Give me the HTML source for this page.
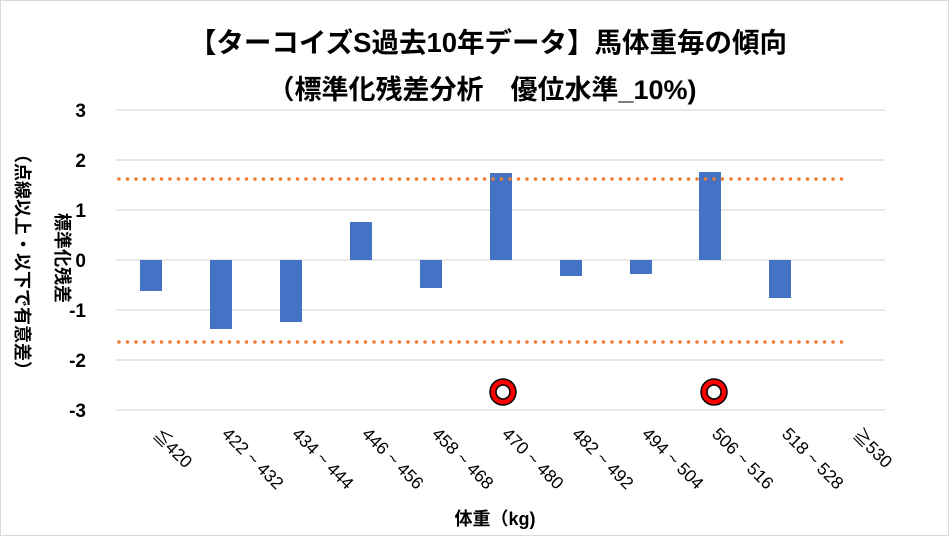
<!DOCTYPE html>
<html><head><meta charset="utf-8"><style>
body{margin:0;background:#fff}
svg{display:block;font-family:"Liberation Sans","Noto Sans CJK JP",sans-serif}
</style></head><body>
<svg width="949" height="536" viewBox="0 0 949 536">
<rect x="0.5" y="0.5" width="948" height="535" fill="#fff" stroke="#d9d9d9"/>
<text x="488" y="52" text-anchor="middle" font-size="27.5" font-weight="bold">【ターコイズS過去10年データ】馬体重毎の傾向</text>
<text x="482" y="99" text-anchor="middle" font-size="27" font-weight="bold">（標準化残差分析　優位水準_10%)</text>
<g stroke="#d9d9d9" stroke-width="1.3">
<line x1="116" x2="885" y1="110" y2="110"/><line x1="116" x2="885" y1="160" y2="160"/>
<line x1="116" x2="885" y1="210" y2="210"/><line x1="116" x2="885" y1="260" y2="260"/>
<line x1="116" x2="885" y1="310" y2="310"/><line x1="116" x2="885" y1="360" y2="360"/>
<line x1="116" x2="885" y1="410" y2="410"/>
</g>
<g font-size="19" font-weight="bold" text-anchor="end">
<text x="86" y="117">3</text><text x="86" y="167">2</text><text x="86" y="217">1</text>
<text x="86" y="267">0</text><text x="86" y="317">-1</text><text x="86" y="367">-2</text><text x="86" y="417">-3</text>
</g>
<g fill="#4472c4">
<rect x="140" y="260" width="22" height="31"/>
<rect x="210" y="260" width="22" height="69"/>
<rect x="280" y="260" width="22" height="62"/>
<rect x="350" y="222" width="22" height="38"/>
<rect x="420" y="260" width="22" height="28"/>
<rect x="490" y="173" width="22" height="87"/>
<rect x="560" y="260" width="22" height="16"/>
<rect x="630" y="260" width="22" height="14"/>
<rect x="699" y="172" width="22" height="88"/>
<rect x="769" y="260" width="22" height="38"/>
</g>
<g stroke="#ed7d31" stroke-width="3.5" stroke-linecap="round" stroke-dasharray="0 8.5">
<line x1="119" x2="845" y1="179" y2="179"/><line x1="119" x2="845" y1="342" y2="342"/>
</g>
<g fill="#fff" stroke="#000" stroke-width="1.5">
<circle cx="503" cy="392" r="13" fill="#ff0000"/><circle cx="503" cy="392" r="7"/>
<circle cx="714" cy="392" r="13" fill="#ff0000"/><circle cx="714" cy="392" r="7"/>
</g>
<g font-size="17.5">
<text transform="translate(152,436) rotate(45)">≦420</text>
<text transform="translate(221,435) rotate(45)">422 ~ 432</text>
<text transform="translate(291,435) rotate(45)">434 ~ 444</text>
<text transform="translate(361,435) rotate(45)">446 ~ 456</text>
<text transform="translate(431,435) rotate(45)">458 ~ 468</text>
<text transform="translate(501,435) rotate(45)">470 ~ 480</text>
<text transform="translate(571,435) rotate(45)">482 ~ 492</text>
<text transform="translate(641,435) rotate(45)">494 ~ 504</text>
<text transform="translate(711,435) rotate(45)">506 ~ 516</text>
<text transform="translate(781,435) rotate(45)">518 ~ 528</text>
<text transform="translate(852,436) rotate(45)">≧530</text>
</g>
<text x="495" y="525" text-anchor="middle" font-size="18" font-weight="bold">体重（kg)</text>
<g font-size="18" font-weight="bold" text-anchor="middle">
<text transform="translate(56,258) rotate(90)">標準化残差</text>
<text transform="translate(16,262) rotate(90)">（点線以上・以下で有意差）</text>
</g>
</svg>
</body></html>
